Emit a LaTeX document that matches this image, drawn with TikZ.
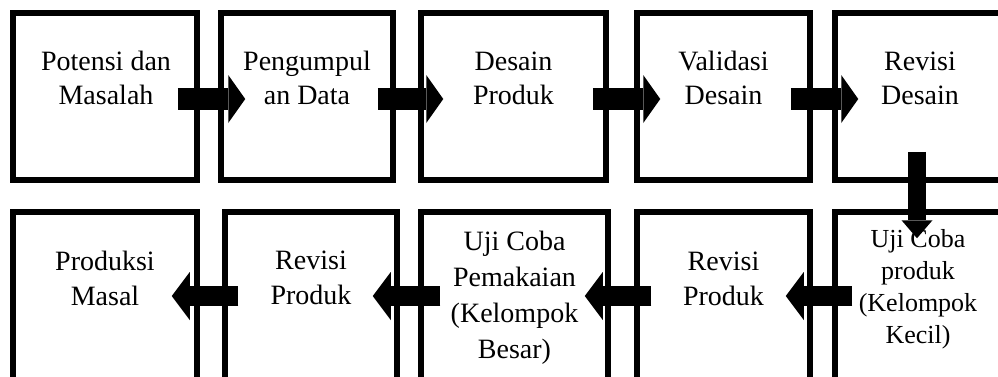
\documentclass[tikz,border=0pt]{standalone}
\usepackage{fontspec}
\setmainfont{Liberation Serif}
\usetikzlibrary{arrows.meta,calc}
\begin{document}
\begin{tikzpicture}[x=1pt,y=-1pt,
  box/.style={draw=black, line width=5.5pt, inner sep=0pt, fill=white},
  toprow/.style={box, minimum height=167pt},
  botrow/.style={box, minimum height=178pt},
  lbl/.style={anchor=base, align=center, inner sep=0pt, font=\fontsize{28}{34}\selectfont},
  lblb/.style={lbl, font=\fontsize{28}{35}\selectfont},
  blkr/.style={line width=22pt, -{Triangle[width=48pt,length=17pt,line width=0pt]}},
  blkl/.style={line width=20pt, -{Triangle[width=48pt,length=18pt,line width=0pt]}},
  blkd/.style={line width=18pt, -{Triangle[width=31pt,length=18pt,line width=0pt]}}
]
\useasboundingbox (0,0) rectangle (998,376);
\clip (0,0) rectangle (998,376);
% top row boxes
\node[toprow, minimum width=184pt] (t1) at (105,96.5) {};
\node[toprow, minimum width=172pt] (t2) at (307,96.5) {};
\node[toprow, minimum width=185pt] (t3) at (513.5,96.5) {};
\node[toprow, minimum width=173pt] (t4) at (723.5,96.5) {};
\node[toprow, minimum width=172pt] (t5) at (921,96.5) {};
% bottom row boxes
\node[botrow, minimum width=184pt] (b1) at (105,301) {};
\node[botrow, minimum width=172pt] (b2) at (311,301) {};
\node[botrow, minimum width=187pt] (b3) at (514.5,301) {};
\node[botrow, minimum width=173pt] (b4) at (723.5,301) {};
\node[botrow, minimum width=172pt] (b5) at (921,301) {};
% labels (anchored at the baseline of the last line)
\node[lbl] (l1) at ($(t1.north)+(1,94)$) {Potensi dan\\Masalah};
\node[lbl] (l2) at ($(t2.north)+(0,94)$) {Pengumpul\\an Data};
\node[lbl] (l3) at ($(t3.north)+(0,94)$) {Desain\\Produk};
\node[lbl] (l4) at ($(t4.north)+(0,94)$) {Validasi\\Desain};
\node[lbl] (l5) at ($(t5.north)+(-1,94)$) {Revisi\\Desain};
\node[lblb] (m1) at ($(b1.north)+(0,96)$) {Produksi\\Masal};
\node[lblb] (m2) at ($(b2.north)+(0,95)$) {Revisi\\Produk};
\node[lbl, font=\fontsize{28}{36}\selectfont] (m3) at ($(b3.north)+(0,149)$) {Uji Coba\\Pemakaian\\(Kelompok\\Besar)};
\node[lblb] (m4) at ($(b4.north)+(0,96)$) {Revisi\\Produk};
\node[lbl, font=\fontsize{26}{32}\selectfont] (m5) at ($(b5.north)+(-3,134)$) {Uji Coba\\produk\\(Kelompok\\Kecil)};
% arrows top row
\draw[blkr] ($(t1.east)+(-22,2.5)$) -- ($(t2.west)+(27,2.5)$);
\draw[blkr] ($(t2.east)+(-18,2.5)$) -- ($(t3.west)+(25,2.5)$);
\draw[blkr] ($(t3.east)+(-16,2.5)$) -- ($(t4.west)+(26,2.5)$);
\draw[blkr] ($(t4.east)+(-22,2.5)$) -- ($(t5.west)+(26,2.5)$);
% down arrow
\draw[blkd] ($(t5.south)+(-4,-31)$) -- ($(b5.north)+(-4,29)$);
% arrows bottom row
\draw[blkl] ($(b5.west)+(20,-5)$) -- ($(b4.east)+(-27,-5)$);
\draw[blkl] ($(b4.west)+(17,-5)$) -- ($(b3.east)+(-26,-5)$);
\draw[blkl] ($(b3.west)+(22,-5)$) -- ($(b2.east)+(-27,-5)$);
\draw[blkl] ($(b2.west)+(16,-5)$) -- ($(b1.east)+(-28,-5)$);
\end{tikzpicture}
\end{document}
